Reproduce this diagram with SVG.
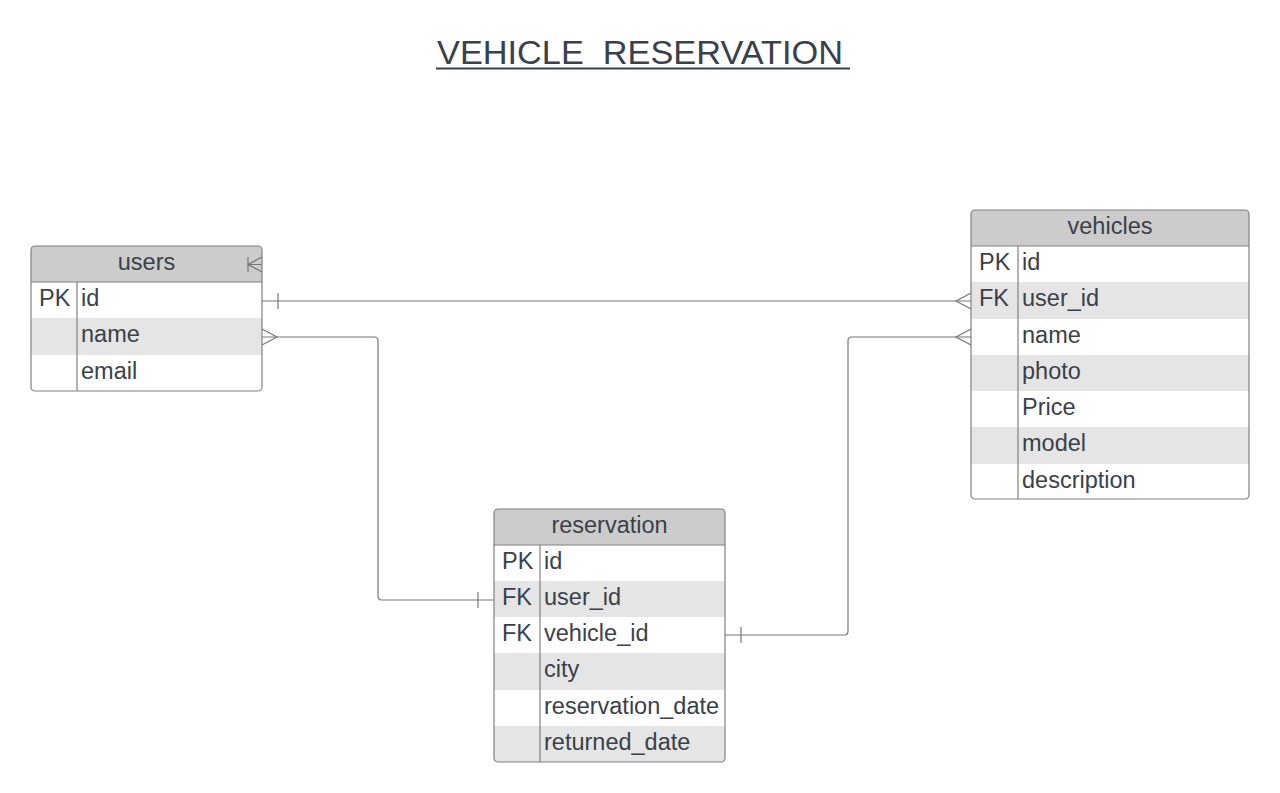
<svg xmlns="http://www.w3.org/2000/svg" width="1280" height="793" viewBox="0 0 1280 793">
<style>
text{font-family:"Liberation Sans",Arial,sans-serif;fill:#3a414a;font-size:23.5px}
.hdr{text-anchor:middle}
.title{font-size:33.6px}
.box{fill:none;stroke:#808080;stroke-width:1.2}
.hfill{fill:#cccccc}
.stripe{fill:#e5e5e5}
.sep{stroke:#808080;stroke-width:1.2}
.conn path{fill:none;stroke:#777;stroke-width:1.2}
</style>
<defs>
<clipPath id="cu"><rect x="31" y="246" width="231" height="145" rx="4"/></clipPath>
<clipPath id="cv"><rect x="971" y="210" width="278" height="289" rx="4"/></clipPath>
<clipPath id="cr"><rect x="494" y="509" width="231" height="253" rx="4"/></clipPath>
</defs>
<rect width="1280" height="793" fill="#ffffff"/>
<g id="title">
<text class="title" x="437" y="64" xml:space="preserve" textLength="406" lengthAdjust="spacingAndGlyphs">VEHICLE  RESERVATION</text>
<line x1="436" y1="68.5" x2="850" y2="68.5" stroke="#3a414a" stroke-width="2"/>
</g>
<g class="conn" id="connectors">
<path d="M262,301 H971"/>
<path d="M278,293 V309"/>
<path d="M971,293 L956,301 L971,309"/>
<path d="M262,337 H374 Q378,337 378,341 V596 Q378,600 382,600 H494"/>
<path d="M262,329 L277,337 L262,345"/>
<path d="M478,592 V608"/>
<path d="M725,635 H844 Q848,635 848,631 V341 Q848,337 852,337 H971"/>
<path d="M971,329 L956,337 L971,345"/>
<path d="M741,627 V643"/>
</g>
<g id="users">
<g clip-path="url(#cu)">
<rect class="hfill" x="31" y="246" width="231" height="36"/>
<rect class="stripe" x="31" y="318" width="231" height="37"/>
</g>
<rect class="box" x="31" y="246" width="231" height="145" rx="4"/>
<line class="sep" x1="31" y1="282" x2="262" y2="282"/>
<line class="sep" x1="77" y1="282" x2="77" y2="391"/>
<path d="M248,257 V272 M262,257 L248,264.5 L262,272 M248,264.5 H262" fill="none" stroke="#777" stroke-width="1.2"/>
<text class="hdr" x="146.5" y="270">users</text>
<text x="39" y="306">PK</text>
<text x="81" y="306">id</text>
<text x="81" y="342">name</text>
<text x="81" y="379">email</text>
</g>
<g id="vehicles">
<g clip-path="url(#cv)">
<rect class="hfill" x="971" y="210" width="278" height="36"/>
<rect class="stripe" x="971" y="282" width="278" height="37"/>
<rect class="stripe" x="971" y="355" width="278" height="36"/>
<rect class="stripe" x="971" y="427" width="278" height="37"/>
</g>
<rect class="box" x="971" y="210" width="278" height="289" rx="4"/>
<line class="sep" x1="971" y1="246" x2="1249" y2="246"/>
<line class="sep" x1="1018" y1="246" x2="1018" y2="499"/>
<text class="hdr" x="1110" y="234">vehicles</text>
<text x="979" y="270">PK</text>
<text x="1022" y="270">id</text>
<text x="979" y="306">FK</text>
<text x="1022" y="306">user_id</text>
<text x="1022" y="343">name</text>
<text x="1022" y="379">photo</text>
<text x="1022" y="415">Price</text>
<text x="1022" y="451">model</text>
<text x="1022" y="488">description</text>
</g>
<g id="reservation">
<g clip-path="url(#cr)">
<rect class="hfill" x="494" y="509" width="231" height="36"/>
<rect class="stripe" x="494" y="581" width="231" height="36"/>
<rect class="stripe" x="494" y="653" width="231" height="37"/>
<rect class="stripe" x="494" y="726" width="231" height="36"/>
</g>
<rect class="box" x="494" y="509" width="231" height="253" rx="4"/>
<line class="sep" x1="494" y1="545" x2="725" y2="545"/>
<line class="sep" x1="540" y1="545" x2="540" y2="762"/>
<text class="hdr" x="609.5" y="533">reservation</text>
<text x="502" y="569">PK</text>
<text x="544" y="569">id</text>
<text x="502" y="605">FK</text>
<text x="544" y="605">user_id</text>
<text x="502" y="641">FK</text>
<text x="544" y="641">vehicle_id</text>
<text x="544" y="677">city</text>
<text x="544" y="714">reservation_date</text>
<text x="544" y="750">returned_date</text>
</g>
</svg>
